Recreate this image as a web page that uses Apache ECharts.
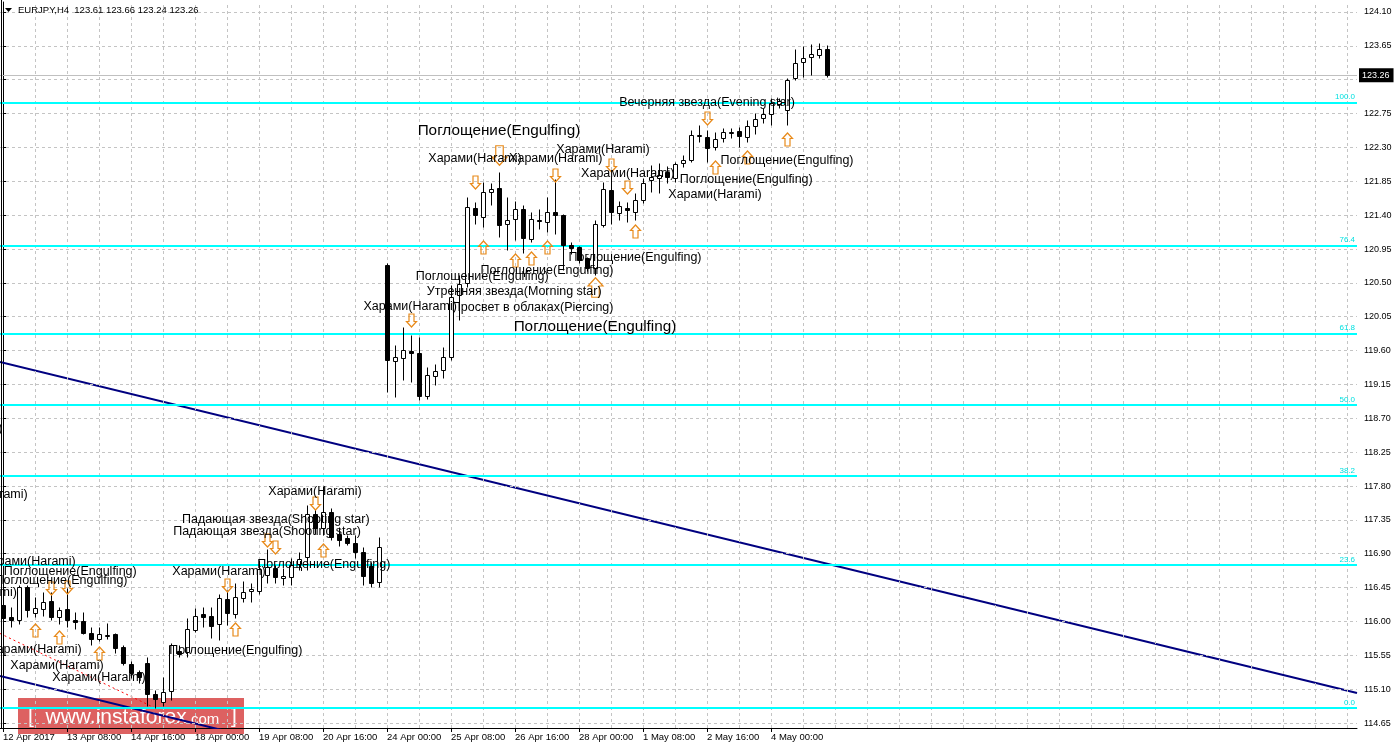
<!DOCTYPE html>
<html><head><meta charset="utf-8">
<script src="https://cdn.jsdelivr.net/npm/echarts@6/dist/echarts.min.js"></script>
<style>html,body{margin:0;padding:0;background:#fff;}#c{width:1398px;height:749px;}</style>
</head><body><div id="c"></div>
<script>
// ---------- data ----------
const symbolName = 'EURJPY,H4';
const xLabels = ['12 Apr 2017','13 Apr 08:00','14 Apr 16:00','18 Apr 00:00','19 Apr 08:00','20 Apr 16:00','24 Apr 00:00','25 Apr 08:00','26 Apr 16:00','28 Apr 00:00','1 May 08:00','2 May 16:00','4 May 00:00'];
const labelBars = [0,8,16,24,32,40,48,56,64,72,80,88,96];
const opens  = [116.22,116.06,116.02,116.46,116.11,116.16,116.27,116.06,116.16,116.02,116.01,115.85,115.77,115.81,115.83,115.66,115.43,115.33,115.45,115.04,114.93,115.08,115.61,115.59,115.89,116.10,116.07,115.97,116.30,116.10,116.31,116.40,116.40,116.62,116.71,116.58,116.59,116.76,116.86,117.43,117.24,117.45,117.16,117.11,117.04,116.92,116.74,116.52,120.74,119.46,119.50,119.60,119.57,119.00,119.26,119.34,119.52,120.34,120.50,121.50,121.38,121.71,121.76,121.28,121.35,121.48,121.08,121.34,121.31,121.44,121.40,121.00,120.98,120.83,120.70,121.27,121.73,121.43,121.50,121.44,121.60,121.87,121.89,121.97,121.89,122.09,122.13,122.45,122.44,122.31,122.43,122.49,122.52,122.44,122.58,122.69,122.74,122.88,122.80,123.22,123.44,123.50,123.53,123.61];
const highs  = [116.26,116.19,116.48,116.48,116.32,116.39,116.39,116.19,116.44,116.12,116.12,115.93,115.93,115.98,115.85,115.69,115.47,115.35,115.53,115.09,115.26,115.71,115.69,116.05,116.18,116.19,116.19,116.36,116.42,116.51,116.54,116.51,116.82,116.96,116.75,116.71,116.84,116.92,117.55,117.49,117.80,117.51,117.26,117.15,117.15,116.99,116.79,117.12,120.76,119.67,119.91,119.81,119.78,119.38,119.42,119.65,120.47,120.60,121.64,121.57,121.84,121.83,121.97,121.64,121.59,121.53,121.44,121.48,121.64,121.88,121.42,121.04,120.99,120.84,121.34,121.84,121.92,121.59,121.57,121.69,121.89,122.07,122.09,122.05,122.11,122.20,122.53,122.60,122.53,122.50,122.56,122.56,122.57,122.66,122.76,122.82,122.96,122.96,123.22,123.61,123.65,123.67,123.69,123.66];
const lows   = [115.99,115.93,115.97,116.06,116.06,116.07,116.02,115.97,115.93,115.90,115.83,115.69,115.74,115.77,115.58,115.42,115.25,115.18,114.88,114.85,114.87,114.96,115.53,115.53,115.86,115.93,115.78,115.75,115.95,116.05,116.26,116.26,116.36,116.51,116.51,116.48,116.48,116.68,116.68,117.16,117.15,117.08,117.00,117.02,116.84,116.48,116.46,116.46,119.05,118.98,119.21,119.18,118.94,118.96,119.14,119.24,119.48,120.01,120.44,121.28,121.24,121.53,121.11,120.94,121.07,120.90,121.04,121.22,121.18,121.15,120.67,120.88,120.76,120.66,120.60,121.24,121.28,121.34,121.31,121.34,121.56,121.71,121.69,121.83,121.84,122.04,122.11,122.37,122.11,122.27,122.37,122.43,122.31,122.37,122.48,122.62,122.60,122.82,122.60,123.20,123.24,123.26,123.49,123.24];
const closes = [116.05,116.02,116.46,116.15,116.18,116.26,116.06,116.15,116.02,115.99,115.85,115.77,115.83,115.82,115.65,115.45,115.31,115.26,115.04,114.97,115.06,115.69,115.57,115.90,116.07,116.06,115.94,116.31,116.11,116.32,116.39,116.43,116.70,116.72,116.59,116.60,116.75,116.83,117.43,117.24,117.45,117.12,117.08,117.04,116.92,116.60,116.51,116.99,119.48,119.52,119.61,119.57,119.00,119.28,119.33,119.52,120.31,120.48,121.51,121.40,121.71,121.75,121.27,121.34,121.48,121.10,121.35,121.32,121.44,121.40,121.00,120.96,120.80,120.70,121.28,121.75,121.44,121.52,121.47,121.60,121.83,121.91,121.93,121.91,122.08,122.13,122.47,122.47,122.29,122.41,122.50,122.50,122.45,122.58,122.68,122.74,122.89,122.92,123.20,123.42,123.49,123.54,123.61,123.26];
const yTicks = [114.65,115.10,115.55,116.00,116.45,116.90,117.35,117.80,118.25,118.70,119.15,119.60,120.05,120.50,120.95,121.40,121.85,122.30,122.75,123.20,123.65,124.10];
const fibLevels = [122.90,121.00,119.83,118.88,117.93,116.75,114.85];
const fibNames  = ['100.0','76.4','61.8','50.0','38.2','23.6','0.0'];
const lastPrice = 123.26;
const trendMain = [[-0.375,119.45],[169.25,115.05]];
const trendLower = [[-0.375,115.275],[40,114.23]];
const trendRed = [[-0.375,115.84],[19,114.85]];
const patternLabels = [
 [62.0,122.52,'Поглощение(Engulfing)',15.3],
 [59.0,122.15,'Харами(Harami)',12.5],
 [69.1,122.15,'Харами(Harami)',12.5],
 [75.0,122.27,'Харами(Harami)',12.5],
 [78.1,121.95,'Харами(Harami)',12.5],
 [88.0,122.90,'Вечерняя звезда(Evening star)',12.5],
 [98.0,122.13,'Поглощение(Engulfing)',12.5],
 [92.9,121.87,'Поглощение(Engulfing)',12.5],
 [89.0,121.67,'Харами(Harami)',12.5],
 [59.9,120.59,'Поглощение(Engulfing)',12.5],
 [68.0,120.67,'Поглощение(Engulfing)',12.5],
 [79.0,120.84,'Поглощение(Engulfing)',12.5],
 [63.9,120.39,'Утренняя звезда(Morning star)',12.5],
 [66.2,120.17,'Просвет в облаках(Piercing)',12.5],
 [74.0,119.91,'Поглощение(Engulfing)',15.3],
 [50.9,120.18,'Харами(Harami)',12.5],
 [39.0,117.72,'Харами(Harami)',12.5],
 [34.1,117.35,'Падающая звезда(Shooting star)',12.5],
 [33.0,117.20,'Падающая звезда(Shooting star)',12.5],
 [27.0,116.66,'Харами(Harami)',12.5],
 [40.1,116.75,'Поглощение(Engulfing)',12.5],
 [29.1,115.61,'Поглощение(Engulfing)',12.5],
 [6.75,115.42,'Харами(Harami)',12.5],
 [12.0,115.26,'Харами(Harami)',12.5],
 [4.0,115.63,'Харами(Harami)',12.5],
 [3.25,116.80,'Харами(Harami)',12.5],
 [8.4,116.67,'Поглощение(Engulfing)',12.5],
 [7.25,116.54,'Поглощение(Engulfing)',12.5],
 [-2.75,117.69,'Харами(Harami)',12.5],
 [-4.1,116.38,'Харами(Harami)',12.5],
 [-5.9,118.57,'Харами(Harami)',12.5]
];
const downArrows = [[6,116.44,0],[8,116.46,0],[28,116.48,0],[33,117.08,0],[34,116.99,0],[39,117.57,0],[51,120.01,0],[59,121.84,0],[62,122.20,1],[69,121.93,0],[76,122.07,0],[78,121.77,0],[88,122.69,0]];
const upArrows = [[4,115.89,0],[7,115.79,0],[12,115.58,0],[29,115.90,0],[40,116.95,0],[60,120.98,0],[64,120.80,0],[66,120.83,0],[68,120.98,0],[74,120.45,1],[79,121.19,0],[89,122.04,0],[93,122.17,0],[98,122.41,0]];

// ---------- chart ----------
const FONT = '"Liberation Sans", Arial, sans-serif';
const chart = echarts.init(document.getElementById('c'), null, {renderer:'canvas'});
const candleData = opens.map((o,i)=>[i,o,highs[i],lows[i],closes[i]]);
const gridBars = []; for (let b=4; b<=168; b+=4) gridBars.push(b);
const n = opens.length-1;
const header = symbolName + '  ' + [opens[n],highs[n],lows[n],closes[n]].map(v=>v.toFixed(2)).join(' ');

function arrowPath(up, big){
  const s = big ? 1.5 : 1;
  const w = 5*s, sh = 2.5*s, h = 6.5*s, neck = -1*s;
  let pts = [[0,-h],[w,neck],[sh,neck],[sh,h],[-sh,h],[-sh,neck],[-w,neck]];
  if (!up) pts = pts.map(p=>[p[0],-p[1]]);
  return pts;
}
function arrowSeries(list, up){
  return {
    type:'custom', z:6, silent:true, animation:false, clip:false,
    data: list.map(a=>[a[0],a[1]]),
    encode:{x:0,y:1},
    renderItem:(params, api)=>{
      const a = list[params.dataIndex];
      const p = api.coord([a[0],a[1]]);
      const cx = Math.round(p[0])+0.5, cy = Math.round(p[1])+0.5;
      const pts = arrowPath(up, a[2]).map(q=>[cx+q[0], cy+q[1]]);
      return {type:'polygon', shape:{points:pts}, style:{fill:'rgba(255,255,255,0)', stroke:'#E88A1A', lineWidth:1.2}};
    }
  };
}

const option = {
  animation:false,
  backgroundColor:'#ffffff',
  grid:{left:0, right:41, top:2, bottom:21, containLabel:false},
  xAxis:{
    type:'value', min:-0.375, max:169.25,
    axisLine:{show:true, onZero:false, lineStyle:{color:'#000', width:1}},
    axisTick:{show:true, customValues:labelBars, length:4, lineStyle:{color:'#000'}},
    axisLabel:{show:true, customValues:labelBars, align:'left', margin:4, color:'#000', fontSize:9.5, fontFamily:FONT,
      formatter:(v)=>{const k = labelBars.indexOf(Math.round(v)); return k>=0 ? xLabels[k] : '';}},
    splitLine:{show:false}
  },
  yAxis:{
    type:'value', position:'right', min:114.584, max:124.233, scale:true,
    axisLine:{show:true, lineStyle:{color:'#000', width:1}},
    axisTick:{show:true, customValues:yTicks, length:4, lineStyle:{color:'#000'}},
    axisLabel:{show:true, customValues:yTicks, margin:7, color:'#000', fontSize:9, fontFamily:FONT, formatter:(v)=>v.toFixed(2)},
    splitLine:{show:false}
  },
  graphic:[
    {type:'line', shape:{x1:1.5,y1:0,x2:1.5,y2:728}, style:{stroke:'#000', lineWidth:1}, z:50},
    {type:'polygon', shape:{points:[[5,8],[12,8],[8.5,12]]}, style:{fill:'#000'}, z:50},
    {type:'text', x:18, y:10, style:{text:header, fill:'#000', fontSize:9.5, fontFamily:FONT, verticalAlign:'middle'}, z:50},
    {type:'group', z:100, children:[
      {type:'rect', shape:{x:18,y:698,width:226,height:36}, style:{fill:'rgba(214,62,62,0.82)'}},
      {type:'text', x:28, y:717, style:{text:'{b|[  www.instaforex}{s|.com}{b|  ]}', fill:'#fff', verticalAlign:'middle',
        rich:{b:{fontSize:21, fontFamily:FONT, fill:'#fff'}, s:{fontSize:15, fontFamily:FONT, fill:'#fff', padding:[5,0,0,0]}}}}
    ]}
  ],
  series:[
    { // grid lines
      type:'line', data:[], silent:true, z:1,
      markLine:{silent:true, symbol:['none','none'], animation:false, label:{show:false},
        lineStyle:{color:'#C4C4C4', type:[3,3], width:1},
        data: yTicks.map(v=>({yAxis:v})).concat(gridBars.map(b=>({xAxis:b})))}
    },
    { // fibonacci levels
      type:'line', data:[], silent:true, z:2,
      markLine:{silent:true, symbol:['none','none'], animation:false,
        lineStyle:{color:'#00FFFF', type:'solid', width:2},
        label:{show:true, position:'insideEndTop', distance:[2,1], color:'#00E0E0', fontSize:8, fontFamily:FONT, formatter:(p)=>p.name},
        data: fibLevels.map((v,i)=>({yAxis:v, name:fibNames[i]}))}
    },
    { // current price
      type:'line', data:[], silent:true, z:3,
      markLine:{silent:true, symbol:['none','none'], animation:false,
        lineStyle:{color:'#C0C0C0', type:'solid', width:1},
        label:{show:true, position:'end', distance:2, color:'#fff', backgroundColor:'#000', padding:[3,4,2,3], fontSize:9, fontFamily:FONT, formatter:()=>lastPrice.toFixed(2)},
        data:[{yAxis:lastPrice}]}
    },
    {type:'line', data:trendMain, symbol:'none', silent:true, z:4, lineStyle:{color:'#000080', width:2}},
    {type:'line', data:trendLower, symbol:'none', silent:true, z:4, lineStyle:{color:'#000080', width:2}},
    {type:'line', data:trendRed, symbol:'none', silent:true, z:4, lineStyle:{color:'#FF0000', width:1, type:[2,3]}},
    { // candles
      type:'custom', z:5, silent:true, animation:false,
      data:candleData, encode:{x:0, y:[1,2,3,4]},
      renderItem:(params, api)=>{
        const i = api.value(0), o = api.value(1), h = api.value(2), l = api.value(3), c = api.value(4);
        const pO = api.coord([i,o]), pH = api.coord([i,h]), pL = api.coord([i,l]), pC = api.coord([i,c]);
        const x = Math.round(pO[0]) + 0.5;
        const yT = Math.round(Math.min(pO[1],pC[1])) + 0.5;
        const yB = Math.round(Math.max(pO[1],pC[1])) + 0.5;
        const bull = c >= o;
        return {type:'group', children:[
          {type:'line', shape:{x1:x, y1:Math.round(pH[1])+0.5, x2:x, y2:Math.round(pL[1])+0.5}, style:{stroke:'#000', lineWidth:1}},
          {type:'rect', shape:{x:x-2, y:yT, width:4, height:Math.max(yB-yT,0)}, style:{fill: bull?'#fff':'#000', stroke:'#000', lineWidth:1}}
        ]};
      }
    },
    { // pattern labels
      type:'custom', z:7, silent:true, animation:false, clip:false,
      data: patternLabels.map(p=>[p[0],p[1]]), encode:{x:0,y:1},
      renderItem:(params, api)=>{
        const p = patternLabels[params.dataIndex];
        const c = api.coord([p[0],p[1]]);
        return {type:'text', x:c[0], y:c[1], style:{text:p[2], fill:'#000', fontSize:p[3], fontFamily:FONT, align:'center', verticalAlign:'middle'}};
      }
    },
    arrowSeries(downArrows, false),
    arrowSeries(upArrows, true)
  ]
};
chart.setOption(option);
</script>
</body></html>
